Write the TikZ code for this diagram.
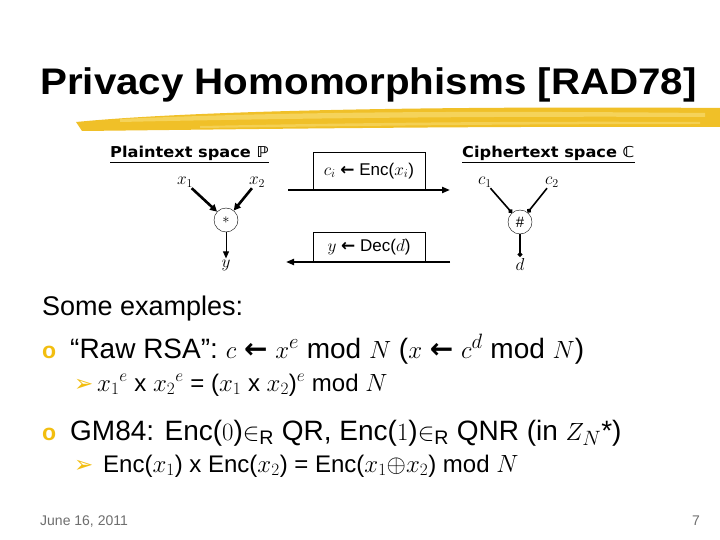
\documentclass[tikz,border=0pt]{standalone}
\usepackage{fontspec}
\setmainfont{Liberation Sans}
\newfontfamily\headfont{DejaVu Sans}
\newfontfamily\symfont{DejaVu Sans}
\usepackage{tikz}
\usetikzlibrary{arrows.meta,positioning}
\definecolor{brush}{HTML}{F0C028}
\definecolor{brushlight}{HTML}{F8DC70}
\definecolor{bullet}{HTML}{F2BE10}
\definecolor{footgray}{HTML}{6E6E6E}
\newcommand{\getsarr}{{\symfont\bfseries ←}}

\begin{document}
\begin{tikzpicture}[x=1pt,y=-1pt,
  txt/.style={inner sep=0pt,anchor=base west},
  space/.style={txt,font=\headfont\bfseries\fontsize{15}{17}\selectfont},
  var/.style={inner sep=1pt,font=\fontsize{18}{20}\selectfont},
  op/.style={draw,circle,minimum size=24pt,inner sep=0pt,font=\fontsize{15}{17}\selectfont},
  mapbox/.style={draw,line width=0.8pt,minimum width=112pt,minimum height=38pt,inner sep=2pt,font=\fontsize{17}{19}\selectfont},
  fat/.style={-{Triangle[length=7pt,width=7pt]},line width=2.6pt},
  thin/.style={-{Triangle[length=7pt,width=6pt]},line width=0.9pt},
  rail/.style={-{Triangle[length=8pt,width=6pt]},line width=2pt},
  dot/.style={-{Circle[length=4.5pt]},line width=1.6pt},
  bulletmark/.style={txt,text=bullet,font=\bfseries\fontsize{23}{25}\selectfont},
  subbullet/.style={txt,text=bullet,font=\symfont\fontsize{23}{25}\selectfont},
  item/.style={txt,font=\fontsize{28}{32}\selectfont},
  subitem/.style={txt,font=\fontsize{24}{28}\selectfont}]
  \useasboundingbox[fill=white] (0,0) rectangle (720,540);

  % title and brush stroke
  \node[txt,font=\bfseries\fontsize{37}{40}\selectfont] (title) at (40,95) {\scalebox{1.09}[1]{Privacy Homomorphisms [RAD78]}};
  \fill[brush] (76,122) .. controls (200,110) and (450,106) .. (720,108) -- (720,127)
    .. controls (480,126) and (260,129) .. (82,131) -- cycle;
  \fill[brushlight,opacity=0.7] (120,119) .. controls (300,111) and (500,111) .. (705,113) -- (705,117)
    .. controls (500,116) and (300,118) .. (120,122) -- cycle;
  \fill[brushlight,opacity=0.6] (200,126) .. controls (350,123) and (500,121) .. (700,122) -- (700,124)
    .. controls (500,124) and (350,126) .. (200,128) -- cycle;

  % plaintext side
  \node[space] (ptitle) at (110,158) {\underline{\scalebox{1.08}[1]{Plaintext space ℙ}}};
  \node[var] (x1) at (185,182) {$x_1$};
  \node[var] (x2) at (257,182) {$x_2$};
  \node[op] (star) at (226,220) {$*$};
  \node[var] (y) at (226,265) {$y$};
  \draw[fat] (x1) -- (star);
  \draw[fat] (x2) -- (star);
  \draw[thin] (star) -- (y);

  % maps between the spaces
  \node[mapbox] (enc) at (369,171) {$c_i$ \getsarr{} Enc($x_i$)};
  \coordinate (encL) at (288,190);
  \coordinate (encR) at (450,190);
  \draw[rail] (encL) -- (encR);
  \node[mapbox,minimum height=30pt] (dec) at (369,247) {$y$ \getsarr{} Dec($d$)};
  \coordinate (decR) at (450,262);
  \coordinate (decL) at (286,262);
  \draw[rail] (decR) -- (decL);

  % ciphertext side
  \node[space] (ctitle) at (462,158) {\underline{\scalebox{1.08}[1]{Ciphertext space ℂ}}};
  \node[var] (c1) at (485,182) {$c_1$};
  \node[var] (c2) at (552,182) {$c_2$};
  \node[op] (hash) at (520,222) {$\#$};
  \node[var] (d) at (520,264) {$d$};
  \draw[dot] (c1) -- (hash);
  \draw[dot] (c2) -- (hash);
  \draw[dot] (hash) -- (d);

  % examples
  \node[txt,font=\fontsize{27}{30}\selectfont] (some) at (42,315) {Some examples:};
  \node[bulletmark] (m1) at (42,358) {o};
  \node[item] (rsa) at (70,358) {“Raw RSA”: $c$ \getsarr{} $x^e$ mod $N$ ($x$ \getsarr{} $c^d$ mod $N$)};
  \node[subbullet] (s1) at (74,391) {➢};
  \node[subitem] (rsaeq) at (97,391) {$x_1{}^e$ x $x_2{}^e$ = ($x_1$ x $x_2$)$^e$ mod $N$};
  \node[bulletmark] (m2) at (42,440) {o};
  \node[item] (gm) at (70,440) {GM84: Enc($0$)$\in$\textsubscript{R} QR, Enc($1$)$\in$\textsubscript{R} QNR (in $Z_N$*)};
  \node[subbullet] (s2) at (74,472) {➢};
  \node[subitem] (gmeq) at (103,472) {Enc($x_1$) x Enc($x_2$) = Enc($x_1{\oplus}x_2$) mod $N$};

  % footer
  \node[txt,text=footgray,font=\fontsize{14}{16}\selectfont] (date) at (40,525) {June 16, 2011};
  \node[txt,anchor=base east,text=footgray,font=\fontsize{14}{16}\selectfont] (page) at (700,525) {7};
\end{tikzpicture}
\end{document}
